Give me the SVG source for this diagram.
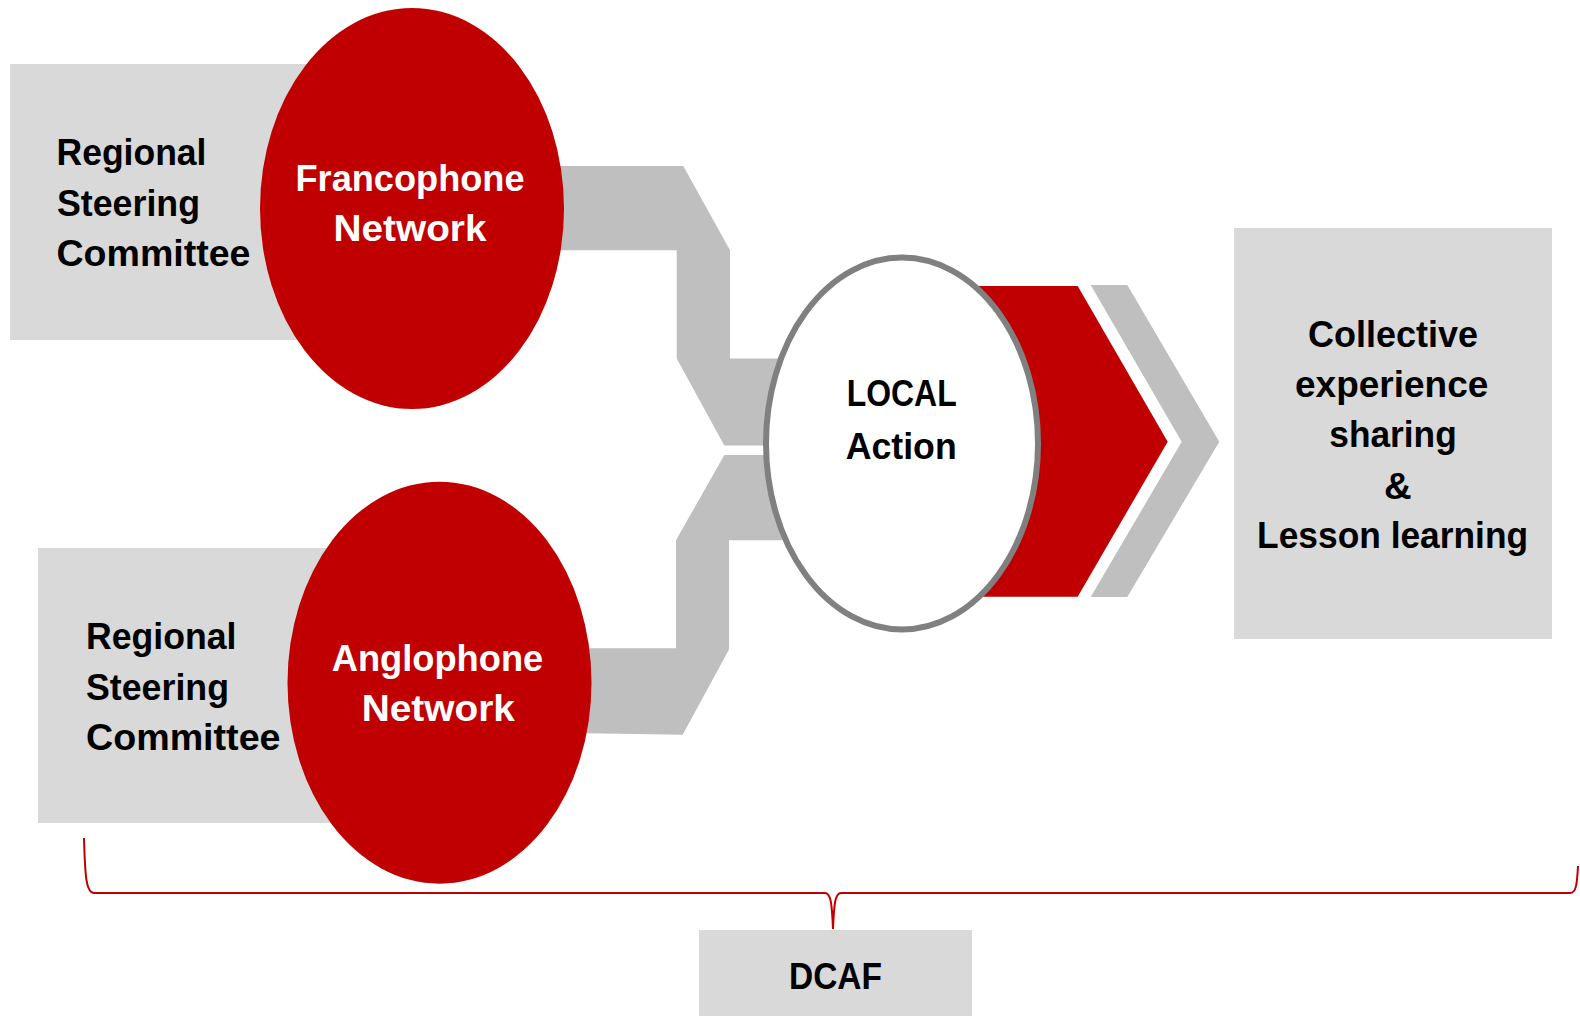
<svg xmlns="http://www.w3.org/2000/svg" width="1580" height="1016" viewBox="0 0 1580 1016">
<style>
.box{fill:#D9D9D9}
.conn{fill:#BFBFBF}
.red{fill:#C00000}
.t{font-family:"Liberation Sans",Arial,sans-serif;font-weight:bold;font-size:37px;fill:#000}
.w{fill:#fff}
.c{text-anchor:middle}
</style>
<rect width="1580" height="1016" fill="#fff"/>
<g id="connectors">
<polygon class="conn" points="540,166 683.3,166 730,250.3 730,358.5 800,358.5 800,445.4 724.3,445.4 676.7,358.5 676.7,250.3 540,250.3"/>
<polygon class="conn" points="724.3,455 800,455 800,540.3 729,540.3 729,649.4 682.7,734.7 570,733 570,648.2 676,648.2 676,540.3"/>
<polygon class="red" points="900,286 1077.7,286 1167.7,441.7 1077.7,596.7 900,596.7"/>
<polygon class="conn" points="1090.7,285 1127.3,285 1219.3,441.7 1127.3,597 1090.7,597 1181.7,441.7"/>
<path d="M84,838 C85,875 86,893 94,893 L825,893 C831,893 832,905 833,929 C834,905 835,893 841,893 L1570,893 C1576,893 1577,885 1578,866" fill="none" stroke="#C00000" stroke-width="2"/>
</g>
<g id="rsc-top">
<rect class="box" x="10" y="64" width="300" height="276"/>
<text class="t" x="56.5" y="165" textLength="150" lengthAdjust="spacingAndGlyphs">Regional</text>
<text class="t" x="57" y="216" textLength="143" lengthAdjust="spacingAndGlyphs">Steering</text>
<text class="t" x="56.5" y="266" textLength="194" lengthAdjust="spacingAndGlyphs">Committee</text>
</g>
<g id="francophone">
<ellipse class="red" cx="412" cy="208.5" rx="152" ry="200.5"/>
<text class="t w c" x="410" y="191" textLength="229" lengthAdjust="spacingAndGlyphs">Francophone</text>
<text class="t w c" x="410" y="241" textLength="153" lengthAdjust="spacingAndGlyphs">Network</text>
</g>
<g id="rsc-bottom">
<rect class="box" x="38" y="548" width="300" height="275"/>
<text class="t" x="86" y="649" textLength="150.5" lengthAdjust="spacingAndGlyphs">Regional</text>
<text class="t" x="86" y="700" textLength="143" lengthAdjust="spacingAndGlyphs">Steering</text>
<text class="t" x="86" y="750" textLength="194.5" lengthAdjust="spacingAndGlyphs">Committee</text>
</g>
<g id="anglophone">
<ellipse class="red" cx="439.5" cy="682.7" rx="152" ry="201"/>
<text class="t w c" x="437.5" y="671" textLength="211.5" lengthAdjust="spacingAndGlyphs">Anglophone</text>
<text class="t w c" x="438.3" y="721" textLength="153.3" lengthAdjust="spacingAndGlyphs">Network</text>
</g>
<g id="local">
<ellipse cx="902" cy="443.5" rx="136" ry="186" fill="#fff" stroke="#808080" stroke-width="6"/>
<text class="t c" x="901.7" y="406" textLength="110" lengthAdjust="spacingAndGlyphs">LOCAL</text>
<text class="t c" x="901.2" y="459" textLength="111" lengthAdjust="spacingAndGlyphs">Action</text>
</g>
<g id="collective">
<rect class="box" x="1234" y="228" width="318" height="411"/>
<text class="t c" x="1393" y="347" textLength="170" lengthAdjust="spacingAndGlyphs">Collective</text>
<text class="t c" x="1391.7" y="397" textLength="193.3" lengthAdjust="spacingAndGlyphs">experience</text>
<text class="t c" x="1393" y="447" textLength="127.4" lengthAdjust="spacingAndGlyphs">sharing</text>
<text class="t c" x="1397.8" y="499" textLength="27.7" lengthAdjust="spacingAndGlyphs">&amp;</text>
<text class="t c" x="1392.6" y="548" textLength="271" lengthAdjust="spacingAndGlyphs">Lesson learning</text>
</g>
<g id="dcaf">
<rect class="box" x="699" y="930" width="273" height="86"/>
<text class="t c" x="835.5" y="989" textLength="93" lengthAdjust="spacingAndGlyphs">DCAF</text>
</g>
</svg>
